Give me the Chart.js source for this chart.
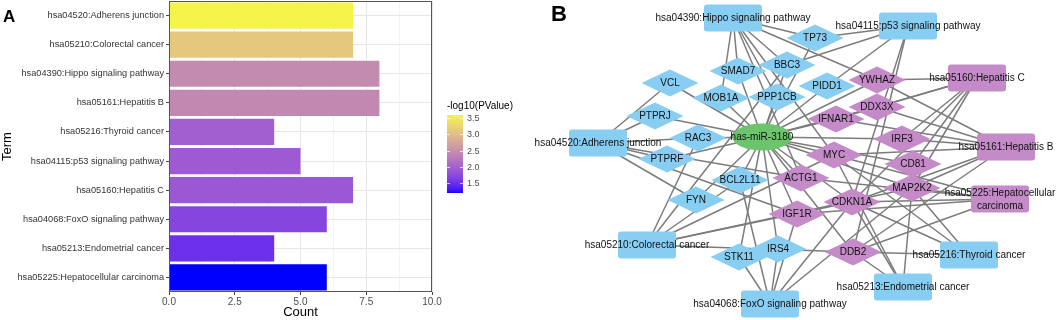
<!DOCTYPE html>
<html>
<head>
<meta charset="utf-8">
<script src="https://cdn.jsdelivr.net/npm/chart.js@4.4.0/dist/chart.umd.min.js"></script>
<style>
  body { margin: 0; background: #fff; }
  #wrapA { position: absolute; left: 0; top: 0; width: 530px; height: 320px; }
  #wrapB { position: absolute; left: 530px; top: 0; width: 529px; height: 320px; }
</style>
</head>
<body>
<div id="wrapA"><canvas id="barChart"></canvas></div>
<div id="wrapB"><canvas id="netChart"></canvas></div>
<script>
// ---- panel A data ----
const terms = ['hsa04520:Adherens junction', 'hsa05210:Colorectal cancer', 'hsa04390:Hippo signaling pathway',
  'hsa05161:Hepatitis B', 'hsa05216:Thyroid cancer', 'hsa04115:p53 signaling pathway', 'hsa05160:Hepatitis C',
  'hsa04068:FoxO signaling pathway', 'hsa05213:Endometrial cancer', 'hsa05225:Hepatocellular carcinoma'];
const counts = [7, 7, 8, 8, 4, 5, 7, 6, 4, 6];
const logP = [3.59, 3.12, 2.45, 2.42, 1.97, 1.92, 1.9, 1.7, 1.5, 1.19];
const xTicks = [0, 2.5, 5, 7.5, 10];
const legendTicks = [3.5, 3.0, 2.5, 2.0, 1.5];

// ---- panel B data ----
const mirna = 'has-miR-3180';
const genes = ['TP73', 'SMAD7', 'BBC3', 'VCL', 'PIDD1', 'YWHAZ', 'MOB1A', 'PPP1CB', 'DDX3X', 'PTPRJ', 'IFNAR1',
  'RAC3', 'IRF3', 'MYC', 'PTPRF', 'CD81', 'BCL2L11', 'ACTG1', 'MAP2K2', 'FYN', 'CDKN1A', 'IGF1R', 'STK11', 'IRS4', 'DDB2'];
const geneX = [285, 208, 257, 140, 297, 347, 191, 247, 347, 125, 306, 168, 372, 304, 137, 383, 210, 271, 382, 166, 322, 267, 209, 248, 323];
const geneY = [38, 71, 65, 83, 86, 80, 98, 97, 107, 116, 119, 138, 139, 155, 159, 164, 180, 178, 188, 200, 202, 214, 257, 249, 252];
const purpleGenes = ['YWHAZ', 'DDX3X', 'IFNAR1', 'IRF3', 'MYC', 'CD81', 'ACTG1', 'MAP2K2', 'CDKN1A', 'IGF1R', 'DDB2'];
const mirnaPos = [232, 137];

const pathways = ['hsa04390:Hippo signaling pathway', 'hsa04115:p53 signaling pathway', 'hsa05160:Hepatitis C',
  'hsa04520:Adherens junction', 'hsa05161:Hepatitis B', 'hsa05225:Hepatocellular carcinoma', 'hsa05210:Colorectal cancer',
  'hsa05216:Thyroid cancer', 'hsa05213:Endometrial cancer', 'hsa04068:FoxO signaling pathway'];
const pathwayX = [203, 378, 447, 68, 476, 470, 117, 439, 373, 240];
const pathwayY = [18, 26, 78, 143, 147, 199, 245, 255, 287, 304];
const purplePathways = ['hsa05160:Hepatitis C', 'hsa05161:Hepatitis B', 'hsa05225:Hepatocellular carcinoma'];
const pathwayGenes = [
  ['SMAD7', 'MOB1A', 'PPP1CB', 'YWHAZ', 'TP73', 'BBC3', 'MYC', 'ACTG1'],
  ['TP73', 'BBC3', 'PIDD1', 'CDKN1A', 'DDB2'],
  ['YWHAZ', 'DDX3X', 'IFNAR1', 'IRF3', 'CD81', 'MAP2K2', 'CDKN1A'],
  ['VCL', 'PTPRJ', 'RAC3', 'PTPRF', 'FYN', 'ACTG1', 'IGF1R'],
  ['YWHAZ', 'DDX3X', 'IFNAR1', 'IRF3', 'MYC', 'MAP2K2', 'CDKN1A', 'DDB2'],
  ['MYC', 'CDKN1A', 'MAP2K2', 'IGF1R', 'DDB2', 'ACTG1'],
  ['RAC3', 'BCL2L11', 'BBC3', 'MYC', 'MAP2K2', 'CDKN1A', 'DDB2'],
  ['MYC', 'MAP2K2', 'CDKN1A', 'DDB2'],
  ['MYC', 'MAP2K2', 'CDKN1A', 'DDB2'],
  ['BCL2L11', 'STK11', 'IRS4', 'IGF1R', 'CDKN1A', 'MAP2K2']
];

Chart.defaults.font.family = '"Liberation Sans", Arial, sans-serif';
Chart.defaults.animation = false;

// ggplot-like blue -> yellow gradient, interpolated in Lab
function hexToLab(hex) {
  const n = parseInt(hex.slice(1), 16);
  const c = [(n >> 16) & 255, (n >> 8) & 255, n & 255].map(v => {
    v /= 255; return v <= 0.04045 ? v / 12.92 : Math.pow((v + 0.055) / 1.055, 2.4);
  });
  const X = (c[0] * 0.4124 + c[1] * 0.3576 + c[2] * 0.1805) / 0.95047;
  const Y = c[0] * 0.2126 + c[1] * 0.7152 + c[2] * 0.0722;
  const Z = (c[0] * 0.0193 + c[1] * 0.1192 + c[2] * 0.9505) / 1.08883;
  const f = t => t > 0.008856 ? Math.cbrt(t) : 7.787 * t + 16 / 116;
  return [116 * f(Y) - 16, 500 * (f(X) - f(Y)), 200 * (f(Y) - f(Z))];
}
function labToRgb(L, a, b) {
  const fy = (L + 16) / 116, fx = fy + a / 500, fz = fy - b / 200;
  const inv = t => t * t * t > 0.008856 ? t * t * t : (t - 16 / 116) / 7.787;
  const X = inv(fx) * 0.95047, Y = inv(fy), Z = inv(fz) * 1.08883;
  const r = X * 3.2406 - Y * 1.5372 - Z * 0.4986;
  const g = -X * 0.9689 + Y * 1.8758 + Z * 0.0415;
  const bl = X * 0.0557 - Y * 0.2040 + Z * 1.0570;
  const gam = v => {
    v = v <= 0.0031308 ? 12.92 * v : 1.055 * Math.pow(v, 1 / 2.4) - 0.055;
    return Math.round(Math.min(1, Math.max(0, v)) * 255);
  };
  return 'rgb(' + gam(r) + ',' + gam(g) + ',' + gam(bl) + ')';
}
const lowLab = hexToLab('#0000FF');
const highLab = hexToLab('#F4F44A');
const pMin = Math.min(...logP), pMax = Math.max(...logP);
function fillFor(v) {
  const t = Math.min(1, Math.max(0, (v - pMin) / (pMax - pMin)));
  return labToRgb(lowLab[0] + (highLab[0] - lowLab[0]) * t,
    lowLab[1] + (highLab[1] - lowLab[1]) * t,
    lowLab[2] + (highLab[2] - lowLab[2]) * t);
}

const isMajor = v => xTicks.some(t => Math.abs(t - v) < 1e-6);

const panelBorder = {
  id: 'panelBorder',
  afterDatasetsDraw(chart) {
    const { ctx, chartArea: a } = chart;
    ctx.save();
    ctx.strokeStyle = '#555';
    ctx.lineWidth = 1;
    ctx.strokeRect(a.left + 0.5, a.top + 0.5, a.right - a.left - 1, a.bottom - a.top - 1);
    ctx.restore();
  }
};

const colorBar = {
  id: 'colorBar',
  afterDraw(chart) {
    const { ctx } = chart;
    const x0 = 447, w = 16;
    const yOf = v => 183 - (v - 1.5) * 32.5;
    ctx.save();
    ctx.font = '10px "Liberation Sans", Arial, sans-serif';
    ctx.fillStyle = '#000';
    ctx.textBaseline = 'middle';
    ctx.textAlign = 'left';
    ctx.fillText('-log10(PValue)', x0, 106);
    const yTop = Math.round(yOf(pMax)), yBot = Math.round(yOf(pMin));
    for (let y = yTop; y < yBot; y++) {
      const v = 1.5 + (183 - (y + 0.5)) / 32.5;
      ctx.fillStyle = fillFor(v);
      ctx.fillRect(x0, y, w, 1);
    }
    ctx.strokeStyle = 'rgba(255,255,255,0.9)';
    ctx.lineWidth = 0.8;
    ctx.font = '9px "Liberation Sans", Arial, sans-serif';
    legendTicks.forEach(v => {
      const y = Math.round(yOf(v)) + 0.5;
      ctx.beginPath();
      ctx.moveTo(x0, y); ctx.lineTo(x0 + 3, y);
      ctx.moveTo(x0 + w - 3, y); ctx.lineTo(x0 + w, y);
      ctx.stroke();
      ctx.fillStyle = '#4d4d4d';
      ctx.fillText(v.toFixed(1), x0 + w + 4, y);
    });
    ctx.restore();
  }
};

const letterA = {
  id: 'letterA',
  afterDraw(chart) {
    const { ctx } = chart;
    ctx.save();
    ctx.font = 'bold 17px "Liberation Sans", Arial, sans-serif';
    ctx.fillStyle = '#000';
    ctx.textBaseline = 'alphabetic';
    ctx.fillText('A', 3, 22);
    ctx.restore();
  }
};

new Chart(document.getElementById('barChart'), {
  type: 'bar',
  data: {
    labels: terms,
    datasets: [{
      data: counts,
      backgroundColor: logP.map(fillFor),
      barPercentage: 0.9,
      categoryPercentage: 1,
    }],
  },
  options: {
    indexAxis: 'y',
    responsive: true,
    maintainAspectRatio: false,
    layout: { padding: { top: 1, right: 98, left: 0, bottom: 0 } },
    plugins: { legend: { display: false }, tooltip: { enabled: false } },
    scales: {
      x: {
        min: 0, max: 10,
        ticks: {
          stepSize: 1.25, autoSkip: false, maxRotation: 0, padding: 1,
          color: '#4d4d4d', font: { size: 10 },
          callback: v => isMajor(v) ? v.toFixed(1) : '',
        },
        grid: {
          color: c => c.tick && isMajor(c.tick.value) ? '#e6e6e6' : '#f3f3f3',
          tickColor: c => c.tick && isMajor(c.tick.value) ? '#444' : 'rgba(0,0,0,0)',
          tickLength: 3,
        },
        border: { display: false },
        title: { display: true, text: 'Count', color: '#000', font: { size: 13 }, padding: 0 },
        afterFit: s => { s.height = 28; s.paddingLeft = 0; s.paddingRight = 0; },
      },
      y: {
        ticks: { color: '#333', font: { size: 9.2 }, padding: 2, autoSkip: false },
        grid: { offset: false, color: '#e6e6e6', tickColor: '#444', tickLength: 3 },
        border: { display: false },
        title: { display: true, text: 'Term', color: '#000', font: { size: 13 }, padding: 0 },
        afterFit: s => { s.width = 169; s.paddingTop = 0; s.paddingBottom = 0; },
      },
    },
  },
  plugins: [panelBorder, colorBar, letterA],
});

// ---- panel B: network on a scatter chart ----
const blueFill = '#88CDF2';
const purpleFill = '#C48BC8';
const greenFill = '#6CC46C';

const nodeNames = [...pathways, mirna, ...genes];
const nodeX = [...pathwayX, mirnaPos[0], ...geneX];
const nodeY = [...pathwayY, mirnaPos[1], ...geneY];
const posOf = name => {
  const i = nodeNames.indexOf(name);
  return { x: nodeX[i], y: nodeY[i] };
};

const edges = [];
genes.forEach(g => edges.push([mirna, g]));
pathways.forEach((p, i) => pathwayGenes[i].forEach(g => edges.push([p, g])));

const edgeSets = edges.map(([a, b]) => ({
  data: [posOf(a), posOf(b)],
  showLine: true,
  borderColor: '#7c7c7c',
  borderWidth: 1.5,
  pointRadius: 0,
}));

function roundRect(ctx, x, y, w, h, r) {
  ctx.beginPath();
  ctx.moveTo(x + r, y);
  ctx.lineTo(x + w - r, y); ctx.quadraticCurveTo(x + w, y, x + w, y + r);
  ctx.lineTo(x + w, y + h - r); ctx.quadraticCurveTo(x + w, y + h, x + w - r, y + h);
  ctx.lineTo(x + r, y + h); ctx.quadraticCurveTo(x, y + h, x, y + h - r);
  ctx.lineTo(x, y + r); ctx.quadraticCurveTo(x, y, x + r, y);
  ctx.closePath();
}

const nodeDraw = {
  id: 'nodeDraw',
  afterDatasetsDraw(chart) {
    const { ctx } = chart;
    const meta = chart.getDatasetMeta(chart.data.datasets.length - 1);
    ctx.save();
    ctx.textAlign = 'center';
    ctx.textBaseline = 'middle';
    meta.data.forEach((pt, i) => {
      const name = nodeNames[i];
      const x = pt.x, y = pt.y;
      if (pathways.includes(name)) {
        ctx.fillStyle = purplePathways.includes(name) ? purpleFill : blueFill;
        roundRect(ctx, x - 29, y - 13.5, 58, 27, 3);
        ctx.fill();
      } else if (name === mirna) {
        ctx.fillStyle = greenFill;
        ctx.beginPath();
        ctx.ellipse(x, y, 29.5, 13.5, 0, 0, Math.PI * 2);
        ctx.fill();
      } else {
        ctx.fillStyle = purpleGenes.includes(name) ? purpleFill : blueFill;
        ctx.beginPath();
        ctx.moveTo(x - 28.5, y); ctx.lineTo(x, y - 13.5);
        ctx.lineTo(x + 28.5, y); ctx.lineTo(x, y + 13.5);
        ctx.closePath();
        ctx.fill();
      }
    });
    // labels on top
    ctx.fillStyle = '#111';
    ctx.font = '10px "Liberation Sans", Arial, sans-serif';
    meta.data.forEach((pt, i) => {
      const name = nodeNames[i];
      if (name === 'hsa05225:Hepatocellular carcinoma') {
        ctx.fillText('hsa05225:Hepatocellular', pt.x, pt.y - 6);
        ctx.fillText('carcinoma', pt.x, pt.y + 7);
      } else {
        ctx.fillText(name, pt.x, pt.y);
      }
    });
    ctx.font = 'bold 22px "Liberation Sans", Arial, sans-serif';
    ctx.fillStyle = '#000';
    ctx.textAlign = 'left';
    ctx.textBaseline = 'alphabetic';
    ctx.fillText('B', 21, 21);
    ctx.restore();
  }
};

new Chart(document.getElementById('netChart'), {
  type: 'scatter',
  data: {
    datasets: [
      ...edgeSets,
      {
        data: nodeNames.map((n, i) => ({ x: nodeX[i], y: nodeY[i] })),
        pointRadius: 0,
        showLine: false,
      },
    ],
  },
  options: {
    responsive: true,
    maintainAspectRatio: false,
    layout: { padding: 0 },
    plugins: { legend: { display: false }, tooltip: { enabled: false } },
    scales: {
      x: { type: 'linear', min: 0, max: 529, display: false },
      y: { type: 'linear', min: 0, max: 320, reverse: true, display: false },
    },
  },
  plugins: [nodeDraw],
});
</script>
</body>
</html>
